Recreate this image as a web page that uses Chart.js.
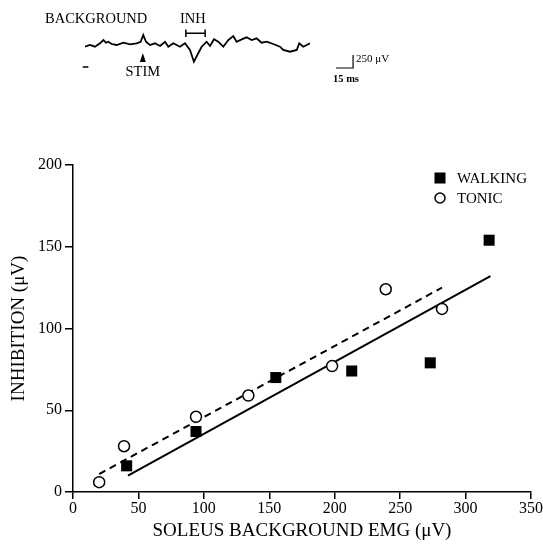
<!DOCTYPE html>
<html>
<head>
<meta charset="utf-8">
<script src="https://cdn.jsdelivr.net/npm/chart.js@4.4.0/dist/chart.umd.min.js"></script>
<style>
body { margin: 0; background: #fff; }
#wrap { position: relative; width: 543px; height: 546px; }
#mainChart, #traceChart { position: absolute; left: 0; top: 0; }
</style>
</head>
<body>
<div id="wrap">
  <canvas id="mainChart" width="543" height="546"></canvas>
  <canvas id="traceChart" width="543" height="95"></canvas>
</div>
<script>
// Scatter data (soleus background EMG vs inhibition, uV)
const walkingX = [41, 94, 155, 213, 273, 318];
const walkingY = [16, 37, 70, 74, 79, 154];
const tonicX = [20, 39, 94, 134, 198, 239, 282];
const tonicY = [6, 28, 46, 59, 77, 124, 112];

// regression lines (end points)
const walkingFitX = [42, 319];
const walkingFitY = [10, 132];
const tonicFitX = [20, 282];
const tonicFitY = [11, 125];

const xTicks = [0, 50, 100, 150, 200, 250, 300, 350];
const yTicks = [0, 50, 100, 150, 200];

// Example EMG trace (ms, uV)
const traceTime = [0, 4.4, 8.8, 13.2, 16.2, 18.5, 20.6, 23.5, 28, 33.8, 39.7, 45.6, 49.1, 51.4, 53.8, 57.3,
  61.7, 66.2, 70.6, 73.5, 77.9, 83.8, 88.2, 92.6, 96.1, 99.9, 102.9, 107.3, 110.3, 113.8, 117.6, 122,
  126.4, 130.8, 133.8, 138.2, 142.6, 147, 151.4, 155.8, 160.3, 166.1, 172, 174.9, 180.9, 186.8, 189, 192.6, 198.5];
const traceAmp = [-33, 0, -33, 33, 96, 44, 63, 19, 0, 44, 13, 33, 63, 192, 63, 0,
  33, -19, 63, -33, 33, -33, 33, -96, -321, -159, -33, 63, -19, 109, 63, -33,
  96, 173, 63, 109, 148, 96, 129, 44, 63, 19, -33, -96, -129, -96, 33, -33, 33];

const stimTime = 51;
const inhWindow = [89, 106];
const backgroundWindow = [-2, 3];
const scaleBarMs = 15;
const scaleBarUv = 250;

const serif = '"Liberation Serif", "Times New Roman", serif';

function pts(xs, ys) {
    return xs.map((x, i) => ({ x: x, y: ys[i] }));
}

// legend drawn inside the plot, top right
const insideLegend = {
    id: 'insideLegend',
    afterDraw(chart) {
        const ctx = chart.ctx;
        const items = chart.data.datasets.filter(d => d.showInLegend);
        ctx.save();
        ctx.font = '15px ' + serif;
        ctx.fillStyle = '#000';
        ctx.textBaseline = 'middle';
        items.forEach((d, i) => {
            const cx = 440, cy = 178 + i * 20;
            if (d.pointStyle === 'rect') {
                ctx.fillRect(cx - 5.5, cy - 5.5, 11, 11);
            } else {
                ctx.beginPath();
                ctx.lineWidth = 1.5;
                ctx.arc(cx, cy, 5, 0, Math.PI * 2);
                ctx.stroke();
            }
            ctx.fillText(d.label, 457, cy + 1);
        });
        ctx.restore();
    }
};

const tickFont = { family: serif, size: 16 };
const titleFont = { family: serif, size: 19 };

const mainChart = new Chart(document.getElementById('mainChart'), {
    type: 'scatter',
    data: {
        datasets: [{
            label: 'WALKING',
            showInLegend: true,
            data: pts(walkingX, walkingY),
            pointStyle: 'rect',
            pointRadius: 7.8,
            backgroundColor: '#000',
            borderColor: '#000',
            borderWidth: 0
        }, {
            label: 'TONIC',
            showInLegend: true,
            data: pts(tonicX, tonicY),
            pointStyle: 'circle',
            pointRadius: 5.5,
            backgroundColor: '#fff',
            borderColor: '#000',
            borderWidth: 1.5
        }, {
            type: 'line',
            label: 'walking fit',
            data: pts(walkingFitX, walkingFitY),
            borderColor: '#000',
            borderWidth: 2,
            pointRadius: 0,
            fill: false
        }, {
            type: 'line',
            label: 'tonic fit',
            data: pts(tonicFitX, tonicFitY),
            borderColor: '#000',
            borderWidth: 2,
            borderDash: [7, 5],
            pointRadius: 0,
            fill: false
        }]
    },
    options: {
        responsive: false,
        animation: false,
        layout: { padding: { top: 165, right: 11, left: 0, bottom: 0 } },
        plugins: { legend: { display: false }, tooltip: { enabled: false } },
        scales: {
            x: {
                type: 'linear',
                min: 0,
                max: 350,
                afterBuildTicks: s => { s.ticks = xTicks.map(v => ({ value: v })); },
                afterFit: s => { s.height = 54; },
                ticks: { color: '#000', font: tickFont, padding: 0 },
                grid: { drawOnChartArea: false, drawTicks: true, tickLength: 7, color: '#000', lineWidth: 1.5 },
                border: { display: true, color: '#000', width: 1.5 },
                title: { display: true, text: 'SOLEUS BACKGROUND EMG (μV)', color: '#000', font: titleFont, padding: { top: 0, bottom: 4 } }
            },
            y: {
                type: 'linear',
                min: 0,
                max: 200,
                afterBuildTicks: s => { s.ticks = yTicks.map(v => ({ value: v })); },
                afterFit: s => { s.width = 73; },
                ticks: { color: '#000', font: tickFont, padding: 3 },
                grid: { drawOnChartArea: false, drawTicks: true, tickLength: 8, color: '#000', lineWidth: 1.5 },
                border: { display: true, color: '#000', width: 1.5 },
                title: { display: true, text: 'INHIBITION (μV)', color: '#000', font: titleFont, padding: { top: 8, bottom: 0 } }
            }
        }
    },
    plugins: [insideLegend]
});

// annotations for the example trace
const traceMarks = {
    id: 'traceMarks',
    afterDraw(chart) {
        const ctx = chart.ctx;
        const xs = chart.scales.x, ys = chart.scales.y;
        ctx.save();
        ctx.fillStyle = '#000';
        ctx.strokeStyle = '#000';
        ctx.font = '14.5px ' + serif;
        ctx.textBaseline = 'alphabetic';
        ctx.fillText('BACKGROUND', 45, 22.7);
        ctx.fillText('INH', 180, 22.7);
        ctx.textAlign = 'center';
        ctx.fillText('STIM', xs.getPixelForValue(stimTime), 76);

        // background window dash
        ctx.lineWidth = 1.5;
        ctx.beginPath();
        ctx.moveTo(xs.getPixelForValue(backgroundWindow[0]), 67);
        ctx.lineTo(xs.getPixelForValue(backgroundWindow[1]), 67);
        ctx.stroke();

        // stim arrow
        const sx = xs.getPixelForValue(stimTime);
        ctx.beginPath();
        ctx.moveTo(sx, 53);
        ctx.lineTo(sx - 3, 62);
        ctx.lineTo(sx + 3, 62);
        ctx.closePath();
        ctx.fill();

        // inhibition window bracket
        const a = xs.getPixelForValue(inhWindow[0]), b = xs.getPixelForValue(inhWindow[1]);
        ctx.beginPath();
        ctx.moveTo(a, 33.3); ctx.lineTo(b, 33.3);
        ctx.moveTo(a, 29.5); ctx.lineTo(a, 37);
        ctx.moveTo(b, 29.5); ctx.lineTo(b, 37);
        ctx.stroke();

        // calibration bars
        const t0 = 221.5, v0 = -442;
        const hx0 = xs.getPixelForValue(t0), hx1 = xs.getPixelForValue(t0 + scaleBarMs);
        const vy0 = ys.getPixelForValue(v0), vy1 = ys.getPixelForValue(v0 + scaleBarUv);
        ctx.lineWidth = 1.2;
        ctx.beginPath();
        ctx.moveTo(hx0, vy0); ctx.lineTo(hx1, vy0); ctx.lineTo(hx1, vy1);
        ctx.stroke();
        ctx.textAlign = 'left';
        ctx.font = '11px ' + serif;
        ctx.fillText(scaleBarUv + ' μV', hx1 + 3, 62);
        ctx.font = 'bold 10.5px ' + serif;
        ctx.fillText(scaleBarMs + ' ms', 333, 81.5);
        ctx.restore();
    }
};

const traceChart = new Chart(document.getElementById('traceChart'), {
    type: 'line',
    data: {
        labels: traceTime,
        datasets: [{
            data: pts(traceTime, traceAmp),
            borderColor: '#000',
            borderWidth: 1.8,
            pointRadius: 0,
            tension: 0,
            fill: false
        }]
    },
    options: {
        responsive: false,
        animation: false,
        layout: { padding: { left: 85, right: 233, top: 29.4, bottom: 29.2 } },
        plugins: { legend: { display: false }, tooltip: { enabled: false } },
        scales: {
            x: { type: 'linear', min: 0, max: 198.5, display: false },
            y: { min: -400, max: 300, display: false }
        }
    },
    plugins: [traceMarks]
});
</script>
</body>
</html>
